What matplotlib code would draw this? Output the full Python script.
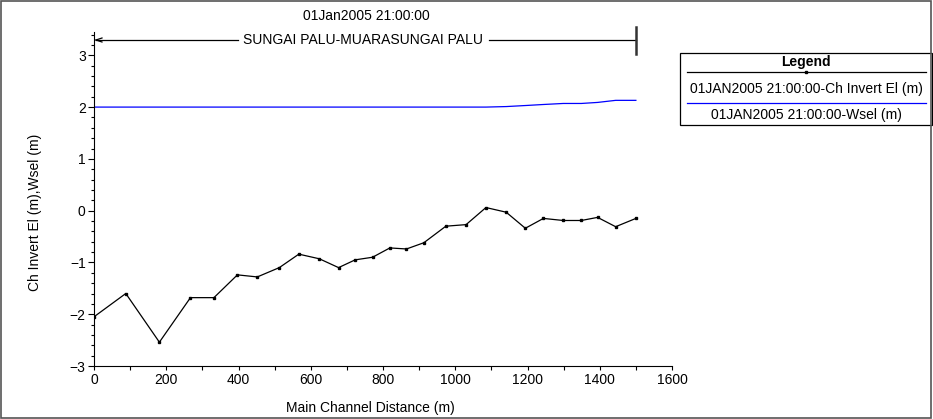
import matplotlib
matplotlib.use("Agg")
from matplotlib import pyplot as plt
from matplotlib.lines import Line2D
from matplotlib.patches import Rectangle
from matplotlib.ticker import MultipleLocator

plt.rcParams['font.family'] = ['Liberation Sans', 'DejaVu Sans']
plt.rcParams['font.size'] = 10

# Main channel stations (m) and values
dist = [0, 88, 181, 267, 332, 397, 452, 513, 567, 624, 677, 723, 771, 819, 865,
        913, 974, 1030, 1085, 1141, 1194, 1244, 1299, 1349, 1394, 1444, 1500]
invert = [-2.05, -1.60, -2.54, -1.68, -1.68, -1.24, -1.28, -1.10, -0.84, -0.93, -1.10,
          -0.95, -0.90, -0.72, -0.74, -0.62, -0.30, -0.27, 0.06, -0.03, -0.34, -0.15,
          -0.19, -0.19, -0.13, -0.31, -0.15]
wsel = [2.0, 2.0, 2.0, 2.0, 2.0, 2.0, 2.0, 2.0, 2.0, 2.0, 2.0, 2.0, 2.0, 2.0, 2.0,
        2.0, 2.0, 2.0, 2.0, 2.01, 2.03, 2.05, 2.07, 2.07, 2.09, 2.13, 2.13]

time_label = "01Jan2005 21:00:00"
reach_label = "SUNGAI PALU-MUARASUNGAI PALU"
legend_labels = ["01JAN2005 21:00:00-Ch Invert El (m)", "01JAN2005 21:00:00-Wsel (m)"]

W, H = 933, 419
fig = plt.figure(figsize=(W / 100, H / 100), dpi=100)

def fx(px):
    return px / W

def fy(py):
    return 1 - py / H

ax = fig.add_axes([fx(94), fy(366), fx(672) - fx(94), fy(32) - fy(366)])
ax.plot(dist, wsel, color='#0000ff', lw=0.9)
ax.plot(dist, invert, color='black', lw=0.9, marker='s', ms=2)

ax.set_xlim(0, 1600)
ax.set_ylim(-3, 3.45)
ax.xaxis.set_major_locator(MultipleLocator(200))
ax.xaxis.set_minor_locator(MultipleLocator(100))
ax.yaxis.set_major_locator(MultipleLocator(1))
ax.yaxis.set_minor_locator(MultipleLocator(0.2))
ax.tick_params(which='both', direction='out', width=0.8, labelsize=10, pad=2)
ax.tick_params(axis='y', which='major', length=4)
ax.tick_params(axis='y', which='minor', length=2.5)
ax.tick_params(axis='x', which='both', length=3)
ax.spines['top'].set_visible(False)
ax.spines['right'].set_visible(False)
ax.set_xlabel("Main Channel Distance (m)", fontsize=10)
ax.set_ylabel("Ch Invert El (m),Wsel (m)", fontsize=10)
ax.xaxis.set_label_coords((370 - 94) / 578, (366 - 401) / 334)
ax.yaxis.set_label_coords((42 - 94) / 578, (366 - 212) / 334)

# reach annotation on top
fig.text(fx(366), fy(16), time_label, ha='center', va='center', fontsize=10)
fig.text(fx(363), fy(40), reach_label, ha='center', va='center', fontsize=10)
fig.add_artist(Line2D([fx(96), fx(238)], [fy(40), fy(40)], color='black', lw=0.9))
fig.add_artist(Line2D([fx(96), fx(102)], [fy(40), fy(38)], color='black', lw=0.9))
fig.add_artist(Line2D([fx(96), fx(102)], [fy(40), fy(42)], color='black', lw=0.9))
fig.add_artist(Line2D([fx(489), fx(636)], [fy(40), fy(40)], color='black', lw=0.9))
fig.add_artist(Line2D([fx(636), fx(636)], [fy(27), fy(54)], color='#333333', lw=1.8))

# legend box
lx0, lx1 = 680, 932
fig.add_artist(Rectangle((fx(lx0), fy(125)), fx(lx1) - fx(lx0), fy(53) - fy(125),
                         fill=False, ec='black', lw=0.9))
fig.text(fx(806), fy(62), "Legend", ha='center', va='center', fontsize=10, weight='bold')
fig.add_artist(Line2D([fx(687), fx(926)], [fy(72), fy(72)], color='black', lw=0.9))
fig.add_artist(Line2D([fx(806)], [fy(72)], color='black', marker='s', ms=2))
fig.text(fx(806), fy(89), legend_labels[0], ha='center', va='center', fontsize=10)
fig.add_artist(Line2D([fx(687), fx(926)], [fy(103), fy(103)], color='#0000ff', lw=0.9))
fig.text(fx(806), fy(115), legend_labels[1], ha='center', va='center', fontsize=10)

# outer frame
fig.add_artist(Rectangle((0.001, 0.002), 0.997, 0.995, fill=False, ec='#555555', lw=1.2))

fig.savefig("out.png", dpi=100)
